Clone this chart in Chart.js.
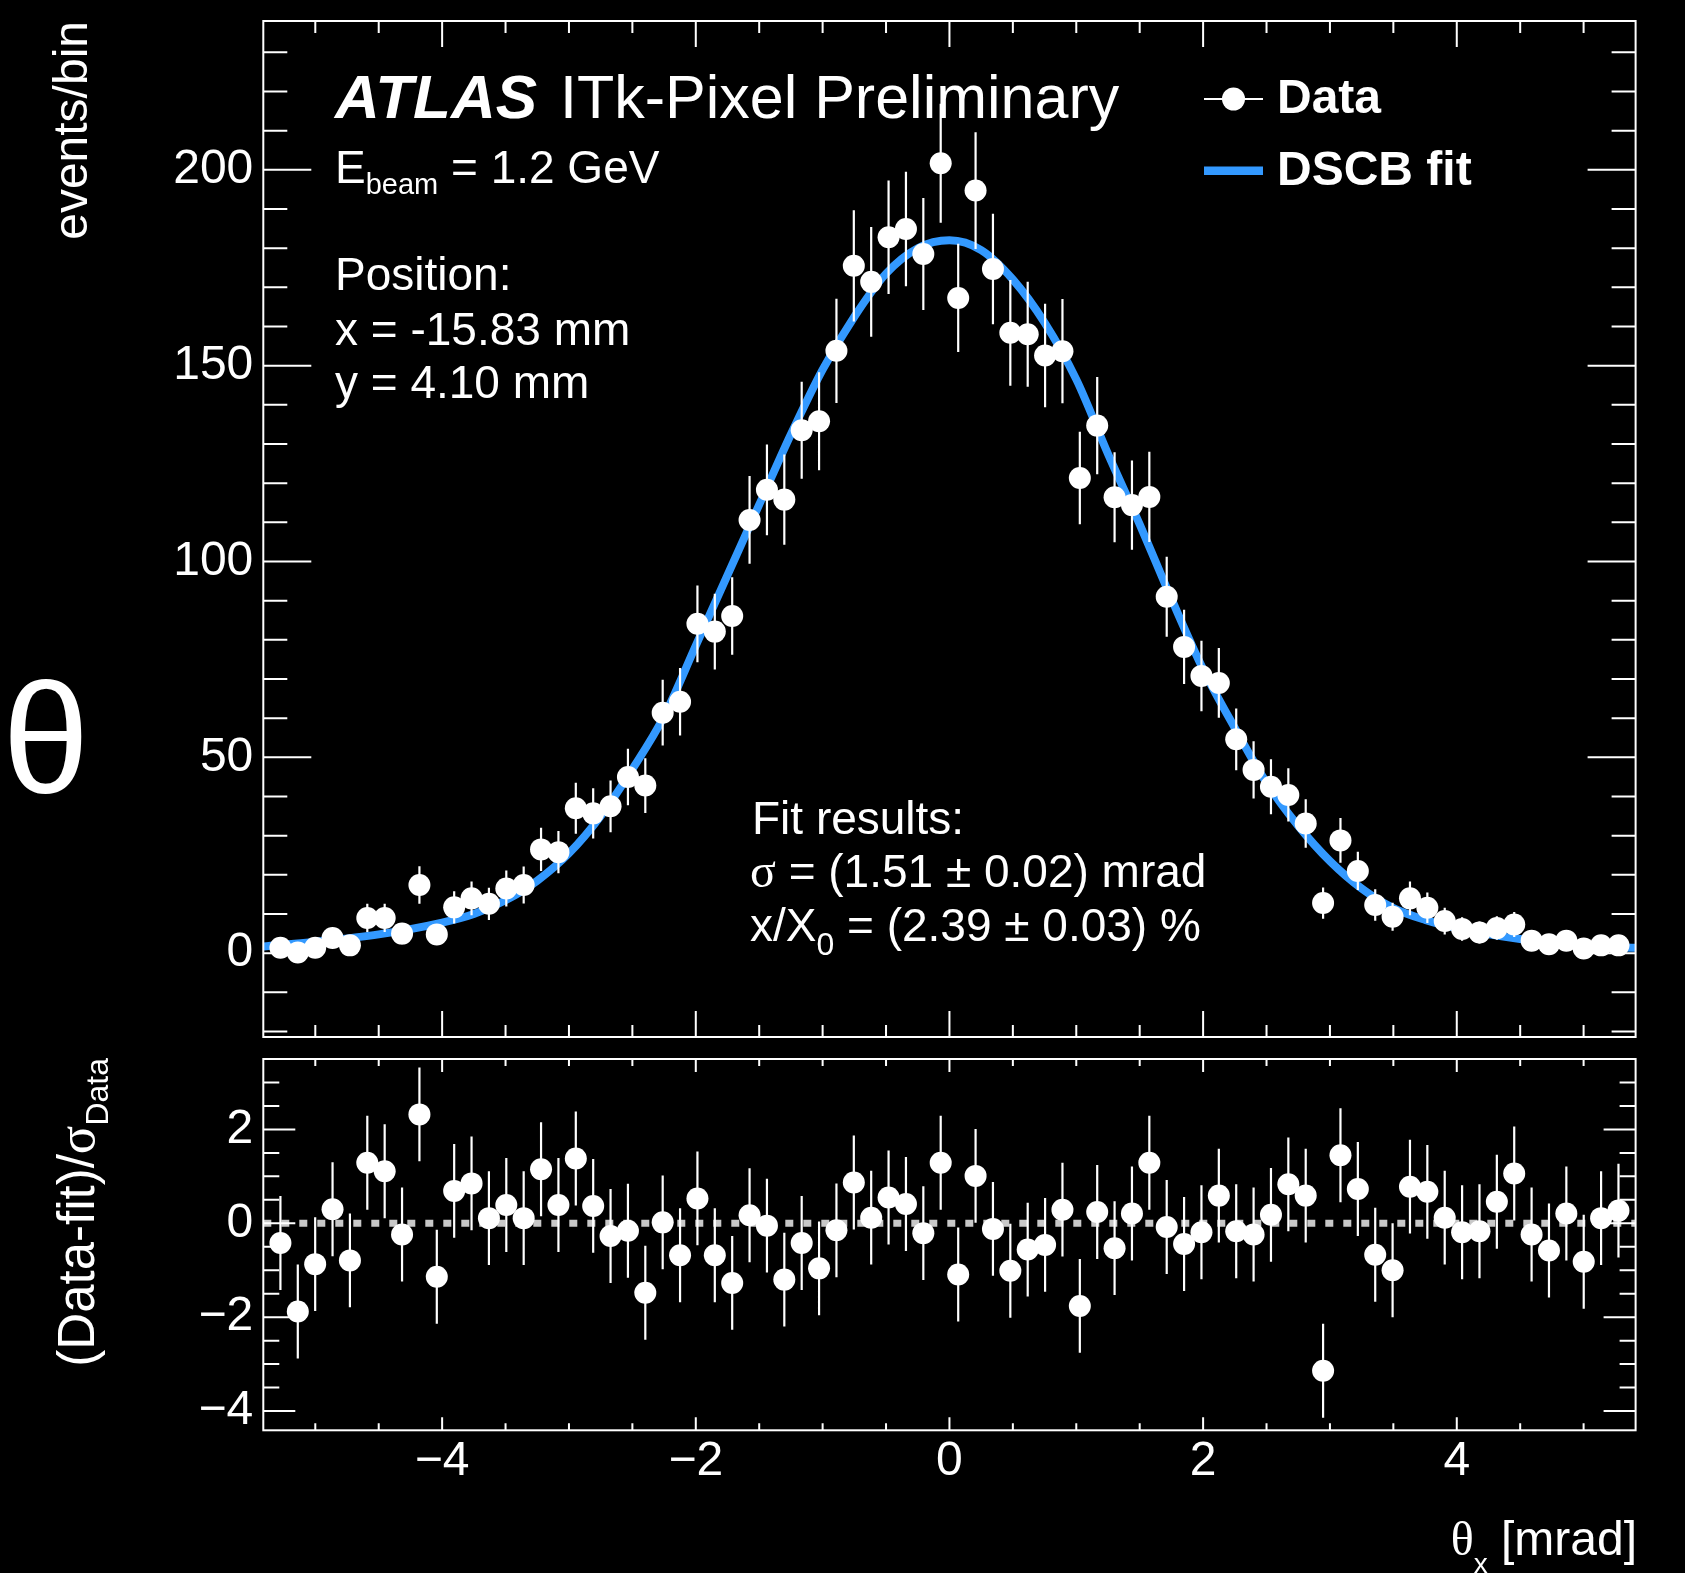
<!DOCTYPE html>
<html>
<head>
<meta charset="utf-8">
<script src="https://cdn.jsdelivr.net/npm/chart.js@4.4.0/dist/chart.umd.min.js"></script>
<style>
  html, body { margin: 0; padding: 0; background: #000; }
  #wrap { position: relative; width: 1685px; height: 1573px; overflow: hidden; background: #000; }
  canvas { position: absolute; left: 0; }
  #upper { top: 0; }
  #lower { top: 1048px; }
</style>
</head>
<body>
<div id="wrap">
  <canvas id="upper" width="1685" height="1048"></canvas>
  <canvas id="lower" width="1685" height="525"></canvas>
</div>
<script>
// bin centres in mrad
const binCenters = [-5.275, -5.138, -5.001, -4.864, -4.727, -4.590, -4.453, -4.316, -4.179, -4.042,
  -3.905, -3.768, -3.631, -3.494, -3.357, -3.220, -3.083, -2.946, -2.809, -2.672,
  -2.535, -2.398, -2.261, -2.124, -1.987, -1.850, -1.713, -1.576, -1.439, -1.302,
  -1.165, -1.028, -0.891, -0.754, -0.617, -0.480, -0.343, -0.206, -0.069, 0.069,
  0.206, 0.343, 0.480, 0.617, 0.754, 0.891, 1.028, 1.165, 1.302, 1.439,
  1.576, 1.713, 1.850, 1.987, 2.124, 2.261, 2.398, 2.535, 2.672, 2.809,
  2.946, 3.083, 3.220, 3.357, 3.494, 3.631, 3.768, 3.905, 4.042, 4.179,
  4.316, 4.453, 4.590, 4.727, 4.864, 5.001, 5.138, 5.275];

// events/bin
const counts = [1.4, 0.2, 1.4, 3.9, 2.0, 9.0, 9.0, 5.0, 17.4, 4.8,
  11.7, 14.0, 12.6, 16.5, 17.4, 26.5, 25.8, 37.0, 35.7, 37.5,
  45.0, 42.8, 61.4, 64.2, 84.1, 82.1, 86.1, 110.6, 118.3, 115.8,
  133.5, 135.8, 153.8, 175.5, 171.4, 182.8, 184.9, 178.5, 201.7, 167.3,
  194.7, 174.7, 158.4, 158.0, 152.6, 153.7, 121.3, 134.7, 116.4, 114.4,
  116.5, 91.0, 78.2, 70.8, 69.0, 54.6, 46.8, 42.5, 40.4, 33.1,
  12.8, 28.8, 21.0, 12.3, 9.3, 14.0, 11.6, 8.2, 6.2, 5.3,
  6.4, 7.3, 3.2, 2.3, 3.2, 1.2, 2.0, 2.0];

const countErrors = [1.3, 1.0, 1.3, 2.4, 1.5, 3.6, 3.6, 2.7, 4.8, 2.6,
  4.1, 4.3, 4.1, 4.6, 4.7, 5.5, 5.4, 6.5, 6.4, 6.6,
  7.2, 7.0, 8.4, 8.6, 9.8, 9.7, 9.9, 11.2, 11.6, 11.5,
  12.4, 12.5, 13.3, 14.2, 14.0, 14.5, 14.6, 14.3, 15.2, 13.8,
  14.9, 14.1, 13.5, 13.4, 13.2, 13.3, 11.8, 12.4, 11.5, 11.4,
  11.5, 10.2, 9.5, 9.0, 8.9, 7.9, 7.3, 7.0, 6.8, 6.2,
  4.0, 5.7, 4.9, 4.0, 3.6, 4.3, 3.9, 3.4, 3.0, 2.8,
  3.0, 3.2, 1.9, 1.6, 1.9, 1.2, 1.5, 1.5];

// (Data-fit)/sigma_Data, each with unit error
const pulls = [-0.42, -1.88, -0.87, 0.30, -0.79, 1.29, 1.11, -0.24, 2.32, -1.14,
  0.69, 0.85, 0.11, 0.39, 0.11, 1.15, 0.39, 1.38, 0.37, -0.27,
  -0.16, -1.48, 0.02, -0.68, 0.53, -0.68, -1.27, 0.17, -0.05, -1.20,
  -0.42, -0.96, -0.15, 0.87, 0.12, 0.55, 0.41, -0.21, 1.29, -1.09,
  1.01, -0.12, -1.01, -0.56, -0.46, 0.29, -1.76, 0.24, -0.53, 0.21,
  1.29, -0.08, -0.44, -0.19, 0.59, -0.17, -0.24, 0.18, 0.83, 0.59,
  -3.14, 1.45, 0.73, -0.67, -1.00, 0.78, 0.67, 0.12, -0.19, -0.17,
  0.46, 1.06, -0.24, -0.58, 0.21, -0.82, 0.11, 0.27];
const pullError = 1;

// DSCB fit curve
const fitX = [-5.41, -5.0, -4.5, -4.0, -3.75, -3.5, -3.25, -3.0, -2.75, -2.5,
  -2.25, -2.0, -1.75, -1.5, -1.25, -1.0, -0.75, -0.5, -0.25, 0.0,
  0.25, 0.5, 0.75, 1.0, 1.25, 1.5, 1.75, 2.0, 2.25, 2.5,
  2.75, 3.0, 3.25, 3.5, 3.75, 4.0, 4.5, 5.0, 5.41];
const fitY = [1.7, 2.9, 4.8, 7.8, 10.0, 13.5, 18.5, 25.5, 35.0, 47.0,
  60.5, 78.5, 96.5, 114.5, 132.5, 149.0, 162.5, 173.5, 180.0, 182.0,
  179.5, 172.0, 161.0, 146.5, 127.5, 109.5, 90.5, 72.5, 57.5, 43.5,
  32.5, 23.5, 16.5, 11.5, 8.5, 6.4, 3.6, 1.9, 1.4];

const xTicks = [-4, -2, 0, 2, 4];
const upperYTicks = [0, 50, 100, 150, 200];
const lowerYTicks = [-4, -2, 0, 2];

const blue = 'rgb(51,153,255)';
const SANS = '"Liberation Sans", Arial, sans-serif';
const SERIF = '"Liberation Serif", "Times New Roman", serif';
Chart.defaults.font.family = SANS;
Chart.defaults.color = '#fff';

function minusLabel(v) {
  return v < 0 ? '\u2212' + Math.abs(v) : String(v);
}

function drawParts(ctx, x, y, parts) {
  let cx = x;
  for (const p of parts) {
    ctx.font = p[1];
    ctx.fillText(p[0], cx, y + (p[2] || 0));
    cx += ctx.measureText(p[0]).width;
  }
  return cx - x;
}

function partsWidth(ctx, parts) {
  let w = 0;
  for (const p of parts) {
    ctx.font = p[1];
    w += ctx.measureText(p[0]).width;
  }
  return w;
}

// keep the plot frame where it is, no room for overhanging labels
function fixWidth(s) {
  s.width = 263.3;
  s.paddingTop = 0;
  s.paddingBottom = 0;
}

// frame plus ROOT style inner ticks on all four sides
const framePlugin = {
  id: 'frame',
  afterDraw(chart, args, o) {
    const { ctx, chartArea: a, scales: { x, y } } = chart;
    ctx.save();
    ctx.strokeStyle = '#fff';
    ctx.lineWidth = 2;
    ctx.beginPath();
    for (let v = Math.ceil(y.min / o.yStep) * o.yStep; v <= y.max; v += o.yStep) {
      const vv = Math.round(v * 1000) / 1000;
      const len = o.yMajor.includes(vv) ? o.yMajorLen : o.yMinorLen;
      const py = y.getPixelForValue(vv);
      ctx.moveTo(a.left, py); ctx.lineTo(a.left + len, py);
      ctx.moveTo(a.right, py); ctx.lineTo(a.right - len, py);
    }
    for (let v = Math.ceil(x.min / 0.5) * 0.5; v <= x.max; v += 0.5) {
      const len = xTicks.includes(v) ? o.xMajorLen : o.xMinorLen;
      const px = x.getPixelForValue(v);
      ctx.moveTo(px, a.top); ctx.lineTo(px, a.top + len);
      ctx.moveTo(px, a.bottom); ctx.lineTo(px, a.bottom - len);
    }
    ctx.stroke();
    ctx.strokeRect(a.left, a.top, a.right - a.left, a.bottom - a.top);
    ctx.restore();
  }
};

const errorBarPlugin = {
  id: 'errorBars',
  afterDatasetsDraw(chart) {
    const { ctx, chartArea: a, scales: { x, y } } = chart;
    ctx.save();
    ctx.beginPath();
    ctx.rect(a.left, a.top, a.right - a.left, a.bottom - a.top);
    ctx.clip();
    ctx.strokeStyle = '#fff';
    ctx.lineWidth = 2.2;
    ctx.beginPath();
    chart.data.datasets.forEach(ds => {
      if (ds.errors === undefined) return;
      ds.data.forEach((p, i) => {
        const e = Array.isArray(ds.errors) ? ds.errors[i] : ds.errors;
        const px = x.getPixelForValue(p.x);
        ctx.moveTo(px, y.getPixelForValue(p.y + e));
        ctx.lineTo(px, y.getPixelForValue(p.y - e));
      });
    });
    ctx.stroke();
    ctx.restore();
  }
};

const upperText = {
  id: 'upperText',
  afterDraw(chart) {
    const ctx = chart.ctx;
    ctx.save();
    ctx.fillStyle = '#fff';
    ctx.textAlign = 'left';
    ctx.textBaseline = 'alphabetic';
    ctx.font = 'italic bold 62px ' + SANS;
    ctx.fillText('ATLAS', 335, 118);
    ctx.font = '61px ' + SANS;
    ctx.fillText('ITk-Pixel Preliminary', 560, 118);

    const f46 = '46px ' + SANS;
    drawParts(ctx, 335, 183, [['E', f46], ['beam', '29px ' + SANS, 11], [' = 1.2 GeV', f46]]);
    ctx.font = f46;
    ctx.fillText('Position:', 335, 290);
    ctx.fillText('x = -15.83 mm', 335, 345);
    ctx.fillText('y = 4.10 mm', 335, 398);

    ctx.fillText('Fit results:', 752, 834);
    drawParts(ctx, 750, 887, [['\u03c3', '48px ' + SERIF], [' = (1.51 \u00b1 0.02) mrad', f46]]);
    drawParts(ctx, 750, 941, [['x/X', f46], ['0', '32px ' + SANS, 14], [' = (2.39 \u00b1 0.03) %', f46]]);

    // legend
    ctx.strokeStyle = '#fff';
    ctx.lineWidth = 2;
    ctx.beginPath();
    ctx.moveTo(1204, 99); ctx.lineTo(1263, 99);
    ctx.stroke();
    ctx.beginPath();
    ctx.arc(1233.5, 99, 11.5, 0, Math.PI * 2);
    ctx.fill();
    ctx.fillStyle = blue;
    ctx.fillRect(1204, 166.5, 59, 8.5);
    ctx.fillStyle = '#fff';
    ctx.font = 'bold 48px ' + SANS;
    ctx.fillText('Data', 1277, 113);
    ctx.fillText('DSCB fit', 1277, 185);

    // y axis title
    ctx.save();
    ctx.translate(87, 21);
    ctx.rotate(-Math.PI / 2);
    ctx.textAlign = 'right';
    ctx.font = '48px ' + SANS;
    ctx.fillText('events/bin', 0, 0);
    ctx.restore();

    ctx.textAlign = 'center';
    ctx.font = '156px ' + SANS;
    ctx.fillText('\u03b8', 46, 792);
    ctx.restore();
  }
};

const lowerText = {
  id: 'lowerText',
  afterDraw(chart) {
    const ctx = chart.ctx;
    ctx.save();
    ctx.fillStyle = '#fff';
    ctx.textAlign = 'left';
    ctx.textBaseline = 'alphabetic';

    const xt = [['\u03b8', '48px ' + SERIF], ['x', '28px ' + SANS, 18], [' [mrad]', '48px ' + SANS]];
    const w = partsWidth(ctx, xt);
    drawParts(ctx, 1637 - w, 507, xt);

    const yt = [['(Data-fit)/', '51px ' + SANS], ['\u03c3', '53px ' + SERIF], ['Data', '32px ' + SANS, 14]];
    const wy = partsWidth(ctx, yt);
    ctx.translate(94, 10);
    ctx.rotate(-Math.PI / 2);
    drawParts(ctx, -wy, 0, yt);
    ctx.restore();
  }
};

const upperChart = new Chart(document.getElementById('upper'), {
  type: 'scatter',
  data: {
    datasets: [
      {
        label: 'Data',
        data: binCenters.map((x, i) => ({ x: x, y: counts[i] })),
        errors: countErrors,
        pointRadius: 11,
        pointHoverRadius: 11,
        backgroundColor: '#fff',
        borderWidth: 0,
        order: 0
      },
      {
        type: 'line',
        label: 'DSCB fit',
        data: fitX.map((x, i) => ({ x: x, y: fitY[i] })),
        borderColor: blue,
        borderWidth: 8,
        pointRadius: 0,
        cubicInterpolationMode: 'monotone',
        fill: false,
        order: 1
      }
    ]
  },
  options: {
    responsive: false,
    animation: false,
    devicePixelRatio: 1,
    events: [],
    layout: { padding: { top: 21, right: 49.4, bottom: 10, left: 0 } },
    plugins: {
      legend: { display: false },
      tooltip: { enabled: false },
      frame: { yMajor: upperYTicks, yStep: 10, yMajorLen: 48, yMinorLen: 24, xMajorLen: 26, xMinorLen: 12 }
    },
    scales: {
      x: { type: 'linear', min: -5.41, max: 5.41, display: false },
      y: {
        type: 'linear',
        min: -21.4,
        max: 238.0,
        afterFit: fixWidth,
        afterBuildTicks(s) { s.ticks = upperYTicks.map(v => ({ value: v })); },
        grid: { display: false, drawTicks: false },
        border: { display: false },
        ticks: { color: '#fff', font: { size: 48 }, padding: 10 }
      }
    }
  },
  plugins: [errorBarPlugin, framePlugin, upperText]
});

const lowerChart = new Chart(document.getElementById('lower'), {
  type: 'scatter',
  data: {
    datasets: [
      {
        label: 'pull',
        data: binCenters.map((x, i) => ({ x: x, y: pulls[i] })),
        errors: pullError,
        pointRadius: 11,
        pointHoverRadius: 11,
        backgroundColor: '#fff',
        borderWidth: 0,
        order: 0
      },
      {
        type: 'line',
        label: 'zero',
        data: [{ x: -5.41, y: 0 }, { x: 5.41, y: 0 }],
        borderColor: '#c8c8c8',
        borderWidth: 7,
        borderDash: [8, 10],
        borderCapStyle: 'butt',
        pointRadius: 0,
        fill: false,
        order: 1
      }
    ]
  },
  options: {
    responsive: false,
    animation: false,
    devicePixelRatio: 1,
    events: [],
    layout: { padding: { top: 8.4, right: 49.4, bottom: 0, left: 0 } },
    plugins: {
      legend: { display: false },
      tooltip: { enabled: false },
      frame: { yMajor: lowerYTicks, yStep: 0.5, yMajorLen: 32, yMinorLen: 16, xMajorLen: 13, xMinorLen: 7 }
    },
    scales: {
      x: {
        type: 'linear',
        min: -5.41,
        max: 5.41,
        afterFit(s) { s.height = 142.7; s.paddingLeft = 0; s.paddingRight = 0; },
        afterBuildTicks(s) { s.ticks = xTicks.map(v => ({ value: v })); },
        grid: { display: false, drawTicks: false },
        border: { display: false },
        ticks: { color: '#fff', font: { size: 48 }, padding: 3, maxRotation: 0, autoSkip: false, callback: minusLabel }
      },
      y: {
        type: 'linear',
        min: -4.41,
        max: 3.5,
        afterFit: fixWidth,
        afterBuildTicks(s) { s.ticks = lowerYTicks.map(v => ({ value: v })); },
        grid: { display: false, drawTicks: false },
        border: { display: false },
        ticks: { color: '#fff', font: { size: 48 }, padding: 10, callback: minusLabel }
      }
    }
  },
  plugins: [errorBarPlugin, framePlugin, lowerText]
});
</script>
</body>
</html>
